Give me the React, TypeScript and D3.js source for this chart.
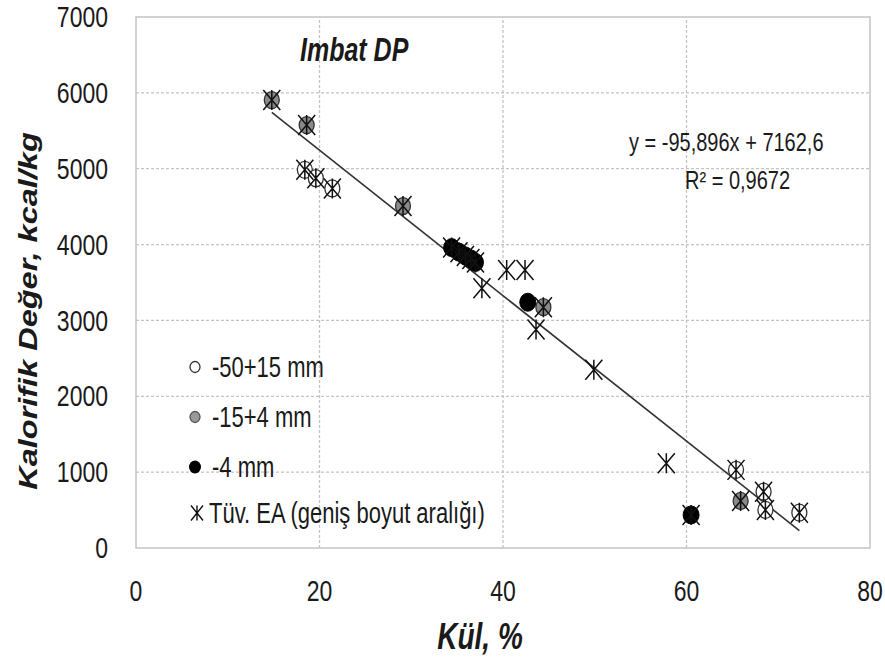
import React from "react";
import * as d3 from "d3";

// ---- data ----
const openX = [18.4, 19.6, 21.4, 65.4, 68.4, 68.6, 72.3];
const openY = [4985, 4875, 4740, 1030, 742, 502, 466];

const greyX = [14.8, 18.6, 29.1, 44.4, 65.9];
const greyY = [5905, 5575, 4508, 3175, 620];

const blackX = [34.4, 35.2, 35.9, 36.5, 37.0, 42.7, 60.5];
const blackY = [3960, 3900, 3850, 3810, 3765, 3240, 436];

const starX = [37.7, 40.4, 42.4, 43.6, 49.9, 57.8,
  18.4, 19.6, 21.4, 65.4, 68.4, 68.6, 72.3,
  14.8, 18.6, 29.1, 44.4, 65.9,
  34.4, 35.2, 35.9, 36.5, 37.0, 60.5];
const starY = [3425, 3665, 3665, 2880, 2350, 1118,
  4985, 4875, 4740, 1030, 742, 502, 466,
  5905, 5575, 4508, 3175, 620,
  3960, 3900, 3850, 3810, 3765, 436];

const xTicks = [0, 20, 40, 60, 80];
const yTicks = [0, 1000, 2000, 3000, 4000, 5000, 6000, 7000];
const slope = -95.896;
const intercept = 7162.6;
const eqText = "y = -95,896x + 7162,6";
const r2Text = "R² = 0,9672";
const legendLabels = ["-50+15 mm", "-15+4 mm", "-4 mm", "Tüv. EA (geniş boyut aralığı)"];

const SY = 1.3;
const FONT = "'Liberation Sans', Arial, sans-serif";
const TXT = "#1a1a1a";

function T({ x, y, size, anchor = "start", weight = "normal", italic = false, children }: any) {
  return (
    <g transform={`translate(${x},${y}) scale(1,${SY})`}>
      <text x={0} y={0} fontFamily={FONT} fontSize={size} textAnchor={anchor}
        dominantBaseline="central" fontWeight={weight} fontStyle={italic ? "italic" : "normal"} fill={TXT}>
        {children}
      </text>
    </g>
  );
}

function starPath(cx: number, cy: number, w: number, h: number) {
  return `M${cx},${cy - h / 2}V${cy + h / 2}M${cx - w / 2},${cy - h / 2}L${cx + w / 2},${cy + h / 2}M${cx - w / 2},${cy + h / 2}L${cx + w / 2},${cy - h / 2}`;
}

export default function App() {
  const x = d3.scaleLinear().domain([0, 80]).range([136, 870]);
  const y = d3.scaleLinear().domain([0, 7000]).range([548, 17]);
  const allX = [...openX, ...greyX, ...blackX, ...starX];
  const [xmin, xmax] = d3.extent(allX) as [number, number];
  const line = d3.line<number>().x((v) => x(v)).y((v) => y(slope * v + intercept));

  return (
    <svg width={885} height={665} style={{ position: "absolute", left: 0, top: 0, background: "#fff" }}>
      {/* grid */}
      {yTicks.slice(1, -1).map((t) => (
        <line key={"gy" + t} x1={x(0)} x2={x(80)} y1={y(t)} y2={y(t)} stroke="#c4c4c4" strokeWidth={1.3} strokeDasharray="3,2" />
      ))}
      {xTicks.slice(1, -1).map((t) => (
        <line key={"gx" + t} x1={x(t)} x2={x(t)} y1={y(0)} y2={y(7000)} stroke="#c4c4c4" strokeWidth={1.3} strokeDasharray="3,2" />
      ))}
      <rect x={x(0)} y={y(7000)} width={x(80) - x(0)} height={y(0) - y(7000)} fill="none" stroke="#c4c4c4" strokeWidth={1.5} />

      {/* tick labels */}
      {yTicks.map((t) => (
        <T key={"yl" + t} x={108} y={y(t)} size={23} anchor="end">{t}</T>
      ))}
      {xTicks.map((t) => (
        <T key={"xl" + t} x={x(t)} y={591} size={23} anchor="middle">{t}</T>
      ))}

      {/* axis titles */}
      <g transform={`translate(28,311) scale(1,${SY}) rotate(-90)`}>
        <text x={0} y={0} fontFamily={FONT} fontSize={25} fontWeight="bold" fontStyle="italic" textAnchor="middle" dominantBaseline="central" fill={TXT}>
          Kalorifik Değer, kcal/kg
        </text>
      </g>
      <T x={480} y={637} size={28} anchor="middle" weight="bold" italic>Kül, %</T>
      <T x={300} y={50} size={25} weight="bold" italic>Imbat DP</T>

      {/* trend line */}
      <path d={line([xmin, xmax]) || ""} stroke="#333" strokeWidth={1.6} fill="none" />

      {/* circles */}
      {openX.map((v, i) => (
        <ellipse key={"o" + i} cx={x(v)} cy={y(openY[i])} rx={7.5} ry={8.5} fill="#fff" stroke="#333" strokeWidth={1.3} />
      ))}
      {greyX.map((v, i) => (
        <ellipse key={"g" + i} cx={x(v)} cy={y(greyY[i])} rx={7.5} ry={8.5} fill="#8a8a8a" stroke="#333" strokeWidth={1.3} />
      ))}
      {blackX.map((v, i) => (
        <ellipse key={"b" + i} cx={x(v)} cy={y(blackY[i])} rx={8} ry={9} fill="#000" stroke="#000" strokeWidth={1} />
      ))}
      {starX.map((v, i) => (
        <path key={"s" + i} d={starPath(x(v), y(starY[i]), 17, 20)} stroke="#111" strokeWidth={1.5} fill="none" />
      ))}

      {/* equation */}
      <T x={629} y={142} size={20}>{eqText}</T>
      <T x={685} y={180} size={20}>{r2Text}</T>

      {/* legend */}
      <ellipse cx={195} cy={367} rx={5} ry={5.5} fill="#fff" stroke="#333" strokeWidth={1.3} />
      <ellipse cx={195} cy={417} rx={5} ry={5.5} fill="#999" stroke="#555" strokeWidth={1.3} />
      <ellipse cx={195} cy={467} rx={6} ry={6.5} fill="#000" />
      <path d={starPath(197, 513, 12, 15)} stroke="#111" strokeWidth={1.4} fill="none" />
      {legendLabels.map((l, i) => (
        <T key={"lg" + i} x={i === 3 ? 209 : 212} y={367 + i * 50 - (i === 3 ? 4 : 0)} size={22}>{l}</T>
      ))}
    </svg>
  );
}
